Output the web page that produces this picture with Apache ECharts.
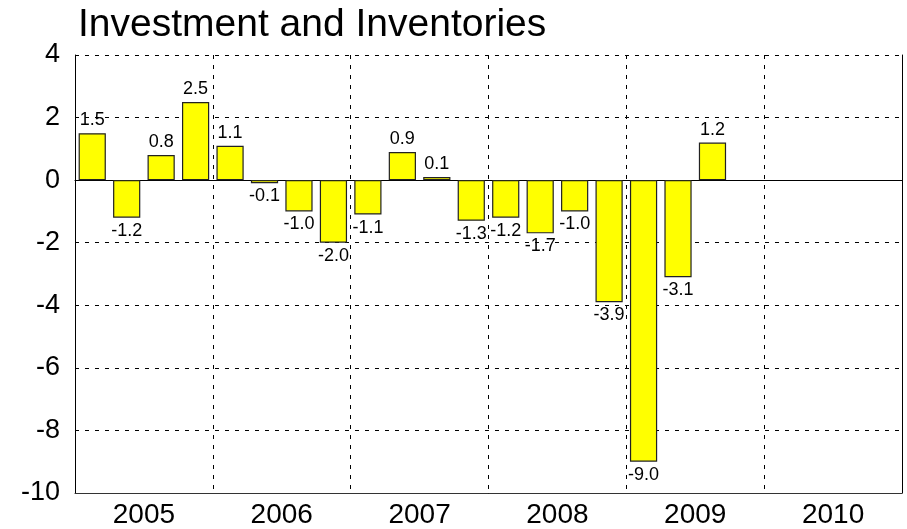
<!DOCTYPE html>
<html>
<head>
<meta charset="utf-8">
<script src="https://cdn.jsdelivr.net/npm/echarts@6/dist/echarts.min.js"></script>
<style>
html,body{margin:0;padding:0;background:#fff;}
#chart{width:907px;height:529px;}
</style>
</head>
<body>
<div id="chart"></div>
<script>
const titleText = 'Investment and Inventories';
const years = ['2005', '2006', '2007', '2008', '2009', '2010'];
const quarters = ['2005Q1','2005Q2','2005Q3','2005Q4','2006Q1','2006Q2','2006Q3','2006Q4',
  '2007Q1','2007Q2','2007Q3','2007Q4','2008Q1','2008Q2','2008Q3','2008Q4',
  '2009Q1','2009Q2','2009Q3','2009Q4','2010Q1','2010Q2','2010Q3','2010Q4'];
const values = [1.5, -1.2, 0.8, 2.5, 1.1, -0.1, -1.0, -2.0, -1.1, 0.9, 0.1, -1.3,
  -1.2, -1.7, -1.0, -3.9, -9.0, -3.1, 1.2];
const yTicks = { min: -10, max: 4, interval: 2 };

const font = 'Liberation Sans, Arial, Helvetica, sans-serif';
const barData = values.map(v => ({
  value: v,
  label: { position: v < 0 ? 'bottom' : 'top' }
}));

const chart = echarts.init(document.getElementById('chart'), null, { renderer: 'canvas' });
chart.setOption({
  animation: false,
  backgroundColor: '#ffffff',
  title: {
    text: titleText,
    left: 73,
    top: 1,
    textStyle: { fontFamily: font, fontSize: 39, fontWeight: 'normal', color: '#000' }
  },
  grid: { left: 75, right: 5, top: 55, bottom: 36 },
  xAxis: [
    {
      type: 'category',
      data: quarters,
      axisLine: { show: true, onZero: true, lineStyle: { color: '#000', width: 1 } },
      axisTick: { show: false },
      axisLabel: { show: false },
      splitLine: { show: false }
    },
    {
      type: 'category',
      data: years,
      position: 'bottom',
      boundaryGap: true,
      axisLine: { show: true, onZero: false, lineStyle: { color: '#333', width: 1 } },
      axisTick: { show: false },
      axisLabel: { show: true, color: '#000', fontFamily: font, fontSize: 28, margin: 8 },
      splitLine: { show: true, lineStyle: { color: '#000', type: [4, 6], width: 1 } }
    }
  ],
  yAxis: [
    {
      type: 'value',
      min: yTicks.min,
      max: yTicks.max,
      interval: yTicks.interval,
      axisLine: { show: true, lineStyle: { color: '#000', width: 1 } },
      axisTick: { show: false },
      axisLabel: { color: '#000', fontFamily: font, fontSize: 27, margin: 15 },
      splitLine: { show: true, lineStyle: { color: '#000', type: [4, 6], width: 1 } }
    },
    {
      type: 'value',
      position: 'right',
      min: yTicks.min,
      max: yTicks.max,
      interval: yTicks.interval,
      axisLine: { show: true, lineStyle: { color: '#000', width: 1 } },
      axisTick: { show: false },
      axisLabel: { show: false },
      splitLine: { show: false }
    }
  ],
  series: [{
    type: 'bar',
    xAxisIndex: 0,
    yAxisIndex: 0,
    data: barData,
    barCategoryGap: '21%',
    itemStyle: { color: '#ffff00', borderColor: '#222', borderWidth: 1.2 },
    label: {
      show: true,
      color: '#000',
      fontFamily: font,
      fontSize: 18,
      distance: 4,
      formatter: p => p.value.toFixed(1)
    }
  }]
});
</script>
</body>
</html>
